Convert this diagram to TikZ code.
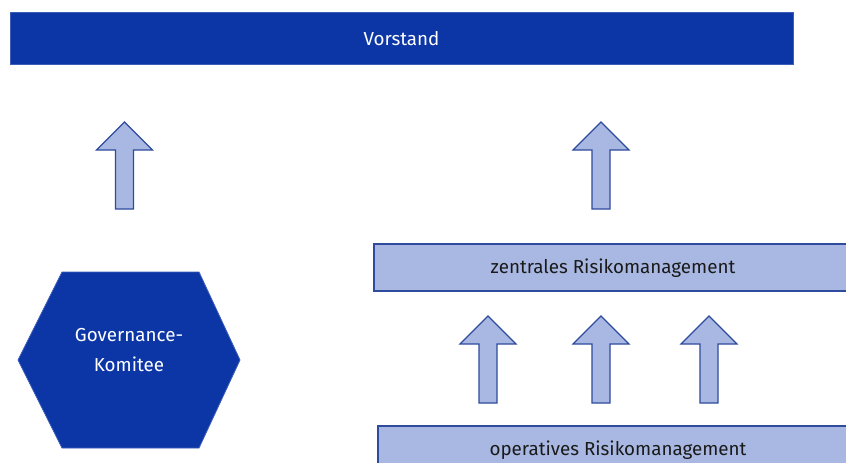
\documentclass[tikz,border=0pt]{standalone}
\usepackage{fontspec}
\setmainfont{Fira Sans}
\definecolor{darkblue}{HTML}{0C36A6}
\definecolor{lightblue}{HTML}{A9B8E2}
\definecolor{edgeblue}{HTML}{2E4B9E}
\definecolor{textdark}{HTML}{1A1A1A}
\tikzset{
  darkbar/.style={fill=darkblue, draw=darkblue!80!white, line width=0.8pt},
  lightbar/.style={fill=lightblue, draw=edgeblue, line width=1.2pt},
  lbl/.style={font=\fontsize{18.8}{30}\selectfont, inner sep=0pt},
  uparrow/.pic={
    \draw[fill=lightblue, draw=edgeblue, line width=1.1pt, line join=miter]
      (-9,0) -- (-9,-59) -- (-28,-59) -- (0,-87) -- (28,-59) -- (9,-59) -- (9,0) -- cycle;
  }
}
\begin{document}
\begin{tikzpicture}[x=1pt,y=-1pt]
\useasboundingbox (0,0) rectangle (846,463);
\clip (0,0) rectangle (846,463);
\fill[white] (0,0) rectangle (846,463);
% Vorstand
\draw[darkbar] (10,12) rectangle (793,64);
\node[lbl, text=white] (vorstand) at (401.5,39) {Vorstand};
% hexagon
\draw[darkbar] (62,272) -- (199,272) -- (240,360) -- (199,448) -- (62,448) -- (18,360) -- cycle;
\node[lbl, text=white, align=center] (gov) at (129,350) {Governance-\\Komitee};
% zentrales
\draw[lightbar] (374,244) rectangle (852,291);
\node[lbl, text=textdark] (zentral) at (613,268) {zentrales Risikomanagement};
% operatives
\draw[lightbar] (378,426) rectangle (852,480);
\node[lbl, text=textdark] (operativ) at (618,450) {operatives Risikomanagement};
% arrows
\pic at (124.5,209) {uparrow};
\pic at (601,209) {uparrow};
\pic at (488,403) {uparrow};
\pic at (601,403) {uparrow};
\pic at (709,403) {uparrow};
\end{tikzpicture}
\end{document}
